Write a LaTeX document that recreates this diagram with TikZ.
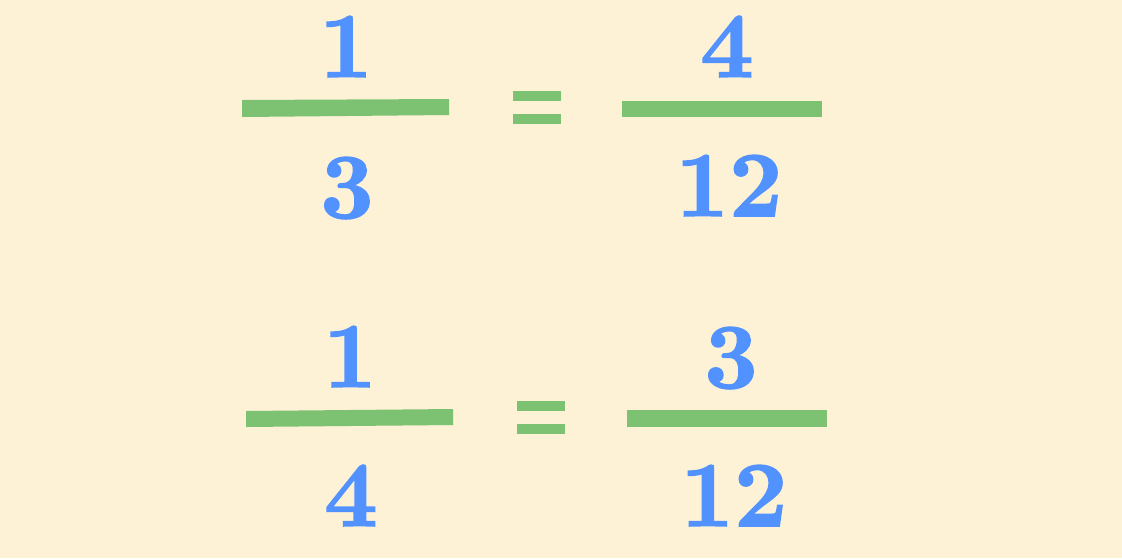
\documentclass[tikz,border=0pt]{standalone}
\usepackage{fontspec}
\newfontfamily\heavynum{lmroman10-bold}[Extension=.otf,FakeBold=1.6]
\definecolor{bgcream}{RGB}{253,242,214}
\definecolor{numblue}{RGB}{82,146,255}
\definecolor{bargreen}{RGB}{125,194,114}
\begin{document}
\begin{tikzpicture}[x=1pt,y=-1pt,
  num/.style={text=numblue,anchor=base,inner sep=0pt,font=\fontsize{93}{100}\heavynum},
  bar/.style={fill=bargreen,draw=none}]
\fill[bgcream] (0,0) rectangle (1122,558);
\useasboundingbox (0,0) rectangle (1122,558);
% first equation
\node[num] (n1) at (346,77) {1};
\node[num] (d1) at (347,218) {3};
\fill[bar] (242,100) -- (449,99) -- (449,115) -- (242,117) -- cycle;
\fill[bar] (513,91) rectangle (561,101);
\fill[bar] (513,114) rectangle (561,124);
\node[num] (n2) at (727,77) {4};
\node[num] (d2) at (729,216) {12};
\fill[bar] (622,101) rectangle (822,117);
% second equation
\node[num] (n3) at (350,387) {1};
\node[num] (d3) at (351,526) {4};
\fill[bar] (246,411) -- (453,409) -- (453,425) -- (246,427) -- cycle;
\fill[bar] (517,401) rectangle (565,411);
\fill[bar] (517,424) rectangle (565,434);
\node[num] (n4) at (731,388) {3};
\node[num] (d4) at (734,526) {12};
\fill[bar] (627,410) rectangle (827,427);
\end{tikzpicture}
\end{document}
